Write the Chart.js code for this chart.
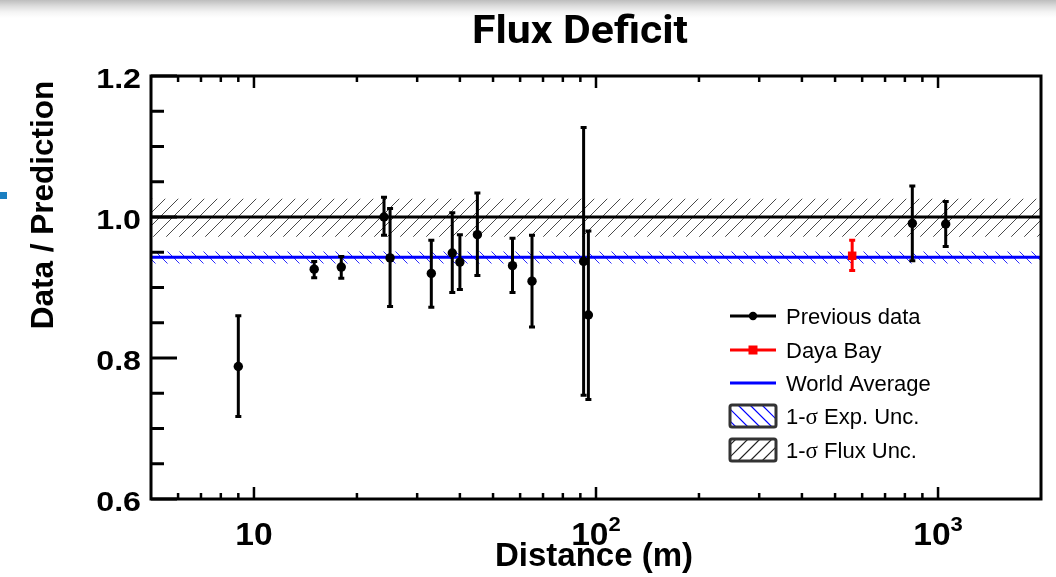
<!DOCTYPE html>
<html>
<head>
<meta charset="utf-8">
<script src="https://cdn.jsdelivr.net/npm/chart.js@4.4.1/dist/chart.umd.min.js"></script>
<style>
html,body{margin:0;padding:0;width:1056px;height:577px;overflow:hidden;
 background:#fff linear-gradient(to bottom,#bdbdbd 0px,#dcdcdc 6px,#f4f4f4 12px,#ffffff 18px) no-repeat;background-size:100% 20px;}
#wrap{position:relative;width:1056px;height:577px;}
#mark{position:absolute;left:0;top:192px;width:7px;height:7px;background:#1a7fc1;}
canvas{position:absolute;left:0;top:0;}
</style>
</head>
<body>
<div id="wrap"><canvas id="c" width="1056" height="577"></canvas><div id="mark"></div></div>
<script>
// ---------- data ----------
const chartTitle = 'Flux Deficit';
const xAxisTitle = 'Distance (m)';
const yAxisTitle = 'Data / Prediction';
const xAxisRange = [5, 2000];
const yAxisRange = [0.6, 1.2];
const xMajorTicks = [10, 100, 1000];
const xMajorBase = ['10', '10', '10'];
const xMajorExp = ['', '2', '3'];
const xMinorTicks = [6, 7, 8, 9, 20, 30, 40, 50, 60, 70, 80, 90, 200, 300, 400, 500, 600, 700, 800, 900];
const yTickStep = 0.05;
const yLabelStep = 0.2;

const prevDistance = [9, 15, 18, 24, 25, 33, 38, 40, 45, 57, 65, 92, 95, 841, 1053];
const prevRatio    = [0.788, 0.926, 0.929, 1.000, 0.942, 0.920, 0.949, 0.936, 0.975, 0.931, 0.909, 0.937, 0.861, 0.991, 0.990];
const prevErrHigh  = [0.860, 0.937, 0.944, 1.028, 1.012, 0.967, 1.006, 0.975, 1.034, 0.970, 0.974, 1.127, 0.980, 1.044, 1.022];
const prevErrLow   = [0.717, 0.914, 0.913, 0.974, 0.873, 0.872, 0.893, 0.897, 0.917, 0.893, 0.844, 0.747, 0.741, 0.938, 0.958];

const dybDistance = [561];
const dybRatio    = [0.945];
const dybErrHigh  = [0.967];
const dybErrLow   = [0.924];

const worldAverage = 0.943;
const expUncBand  = [0.934, 0.951];
const fluxUncBand = [0.972, 1.026];
const unityLevel  = 1.0;

const legendLabels = ['Previous data', 'Daya Bay', 'World Average', '1-σ Exp. Unc.', '1-σ Flux Unc.'];

// ---------- helpers ----------
const SANS = "'Liberation Sans', Arial, Helvetica, sans-serif";
const SERIF = "'Liberation Serif', 'Times New Roman', serif";

function hatch(color, s, dir, lw) {
  const c = document.createElement('canvas');
  c.width = s; c.height = s;
  const g = c.getContext('2d');
  g.strokeStyle = color; g.lineWidth = lw;
  g.beginPath();
  if (dir === '/') {
    g.moveTo(-2, s + 2); g.lineTo(s + 2, -2);
    g.moveTo(-2, 2); g.lineTo(2, -2);
    g.moveTo(s - 2, s + 2); g.lineTo(s + 2, s - 2);
  } else {
    g.moveTo(-2, -2); g.lineTo(s + 2, s + 2);
    g.moveTo(s - 2, -2); g.lineTo(s + 2, 2);
    g.moveTo(-2, s - 2); g.lineTo(2, s + 2);
  }
  g.stroke();
  return g.createPattern(c, 'repeat');
}

function drawText(ctx, s, x, y, font, align, sx) {
  ctx.save();
  ctx.font = font;
  ctx.textAlign = 'left';
  ctx.textBaseline = 'alphabetic';
  const w = ctx.measureText(s).width * (sx || 1);
  const x0 = align === 'center' ? x - w / 2 : align === 'right' ? x - w : x;
  ctx.translate(x0, y);
  ctx.scale(sx || 1, 1);
  ctx.fillText(s, 0, 0);
  ctx.restore();
  return w;
}

const ctx0 = document.getElementById('c').getContext('2d');
const grayHatch = hatch('#4a4a4a', 13, '/', 1);
const blueHatch = hatch('#2a2aff', 12, '\\', 1);

const lineAt = v => xAxisRange.map(x => ({ x: x, y: v }));

// ---------- plugins ----------
const errorBars = {
  id: 'errorBars',
  beforeDatasetDraw(chart, args) {
    const ds = chart.data.datasets[args.index];
    if (!ds.errLow) return;
    const xs = chart.scales.x, ys = chart.scales.y, ctx = chart.ctx;
    ctx.save();
    ctx.strokeStyle = ds.borderColor;
    ctx.lineWidth = 3;
    ctx.lineCap = 'butt';
    ds.data.forEach((p, i) => {
      const px = xs.getPixelForValue(p.x);
      const yl = ys.getPixelForValue(ds.errLow[i]);
      const yh = ys.getPixelForValue(ds.errHigh[i]);
      ctx.beginPath();
      ctx.moveTo(px, yl); ctx.lineTo(px, yh);
      ctx.moveTo(px - 3, yl); ctx.lineTo(px + 3, yl);
      ctx.moveTo(px - 3, yh); ctx.lineTo(px + 3, yh);
      ctx.stroke();
    });
    ctx.restore();
  }
};

const axesDecor = {
  id: 'axesDecor',
  afterDraw(chart) {
    const ctx = chart.ctx, a = chart.chartArea;
    const xs = chart.scales.x, ys = chart.scales.y;
    ctx.save();
    ctx.strokeStyle = '#000';
    ctx.fillStyle = '#000';
    // x ticks (bottom and top, inward)
    ctx.lineWidth = 2.5;
    xs.ticks.forEach(t => {
      const px = xs.getPixelForValue(t.value);
      const len = xMajorTicks.includes(t.value) ? 12 : 6;
      ctx.beginPath();
      ctx.moveTo(px, a.bottom); ctx.lineTo(px, a.bottom - len);
      ctx.moveTo(px, a.top); ctx.lineTo(px, a.top + len);
      ctx.stroke();
    });
    // y ticks (left, inward)
    ctx.lineWidth = 3;
    ys.ticks.forEach(t => {
      const py = ys.getPixelForValue(t.value);
      const major = Math.abs(t.value / yLabelStep - Math.round(t.value / yLabelStep)) < 1e-6;
      ctx.beginPath();
      ctx.moveTo(a.left, py); ctx.lineTo(a.left + (major ? 26 : 13), py);
      ctx.stroke();
    });
    // frame
    ctx.lineWidth = 3;
    ctx.strokeRect(a.left, a.top, a.right - a.left, a.bottom - a.top);

    // y tick labels
    ys.ticks.forEach(t => {
      const major = Math.abs(t.value / yLabelStep - Math.round(t.value / yLabelStep)) < 1e-6;
      if (!major) return;
      const py = ys.getPixelForValue(t.value);
      drawText(ctx, t.value.toFixed(1), a.left - 10, py + 12, 'bold 28px ' + SANS, 'right', 1.15);
    });
    // x tick labels
    xMajorTicks.forEach((v, i) => {
      const px = xs.getPixelForValue(v);
      ctx.font = 'bold 32px ' + SANS;
      const wb = ctx.measureText(xMajorBase[i]).width * 1.05;
      let we = 0;
      if (xMajorExp[i]) { ctx.font = 'bold 21px ' + SANS; we = ctx.measureText(xMajorExp[i]).width * 1.05; }
      const x0 = px - (wb + we) / 2;
      drawText(ctx, xMajorBase[i], x0, 545, 'bold 32px ' + SANS, 'left', 1.05);
      if (xMajorExp[i]) drawText(ctx, xMajorExp[i], x0 + wb, 531, 'bold 21px ' + SANS, 'left', 1.05);
    });

    // axis titles
    drawText(ctx, xAxisTitle, 594, 566, 'bold 33px ' + SANS, 'center', 1);
    ctx.save();
    ctx.translate(53, 205);
    ctx.rotate(-Math.PI / 2);
    drawText(ctx, yAxisTitle, 0, 0, 'bold 31.5px ' + SANS, 'center', 1);
    ctx.restore();

    // title
    ctx.save();
    ctx.font = 'bold 38px Roboto, ' + SANS;
    const tw = ctx.measureText(chartTitle).width;
    ctx.restore();
    drawText(ctx, chartTitle, 580, 43, 'bold 38px Roboto, ' + SANS, 'center', 216 / tw);

    // legend
    const lx0 = 730, lx1 = 776, tx = 786;
    const rows = [316, 350, 383, 416, 450];
    ctx.lineWidth = 3;
    ctx.strokeStyle = '#000';
    ctx.beginPath(); ctx.moveTo(lx0, rows[0]); ctx.lineTo(lx1, rows[0]); ctx.stroke();
    ctx.beginPath(); ctx.arc((lx0 + lx1) / 2, rows[0], 4.2, 0, Math.PI * 2); ctx.fill();
    ctx.strokeStyle = '#ff0000'; ctx.fillStyle = '#ff0000';
    ctx.beginPath(); ctx.moveTo(lx0, rows[1]); ctx.lineTo(lx1, rows[1]); ctx.stroke();
    ctx.fillRect((lx0 + lx1) / 2 - 4.5, rows[1] - 4.5, 9, 9);
    ctx.strokeStyle = '#0000ff';
    ctx.beginPath(); ctx.moveTo(lx0, rows[2]); ctx.lineTo(lx1, rows[2]); ctx.stroke();
    [[rows[3], '#0000ff', '\\'], [rows[4], '#222', '/']].forEach(([cy, col, dir]) => {
      const bx = 730, by = cy - 11, bw = 46, bh = 22;
      ctx.save();
      ctx.beginPath(); ctx.rect(bx, by, bw, bh); ctx.clip();
      ctx.strokeStyle = col; ctx.lineWidth = 1.2;
      ctx.beginPath();
      for (let k = -40; k < 80; k += 12) {
        if (dir === '/') { ctx.moveTo(bx + k, by + bh); ctx.lineTo(bx + k + bh, by); }
        else { ctx.moveTo(bx + k, by); ctx.lineTo(bx + k + bh, by + bh); }
      }
      ctx.stroke();
      ctx.restore();
      ctx.strokeStyle = '#333'; ctx.lineWidth = 3;
      ctx.beginPath(); ctx.roundRect(bx, by, bw, bh, 2); ctx.stroke();
    });
    ctx.fillStyle = '#000';
    legendLabels.forEach((lab, i) => {
      const base = rows[i] + 8;
      const parts = lab.split('σ');
      if (parts.length === 1) { drawText(ctx, lab, tx, base, '22px ' + SANS, 'left', 1); return; }
      let x = tx;
      x += drawText(ctx, parts[0], x, base, '22px ' + SANS, 'left', 1);
      x += drawText(ctx, 'σ', x, base, '23px ' + SERIF, 'left', 1);
      drawText(ctx, parts[1], x, base, '22px ' + SANS, 'left', 1);
    });
    ctx.restore();
  }
};

// ---------- chart ----------
const pts = (xs, ys) => xs.map((x, i) => ({ x: x, y: ys[i] }));

new Chart(ctx0, {
  type: 'line',
  data: {
    datasets: [
      { label: legendLabels[0], data: pts(prevDistance, prevRatio), errLow: prevErrLow, errHigh: prevErrHigh,
        showLine: false, pointRadius: 4.7, pointBackgroundColor: '#000', pointBorderWidth: 0,
        borderColor: '#000', backgroundColor: '#000', order: 0 },
      { label: legendLabels[1], data: pts(dybDistance, dybRatio), errLow: dybErrLow, errHigh: dybErrHigh,
        showLine: false, pointStyle: 'rect', pointRadius: 6, pointBackgroundColor: '#ff0000', pointBorderWidth: 0,
        borderColor: '#ff0000', backgroundColor: '#ff0000', order: 1 },
      { label: legendLabels[2], data: lineAt(worldAverage), borderColor: '#0000ff', borderWidth: 3,
        pointRadius: 0, fill: false, order: 2 },
      { label: 'Unity', data: lineAt(unityLevel), borderColor: '#000', borderWidth: 3,
        pointRadius: 0, fill: false, order: 3 },
      { label: legendLabels[3], data: lineAt(expUncBand[1]), borderColor: 'rgba(0,0,0,0)', borderWidth: 1,
        pointRadius: 0, fill: '+1', backgroundColor: blueHatch, order: 4 },
      { label: 'exp-low', data: lineAt(expUncBand[0]), borderColor: 'rgba(0,0,0,0)', borderWidth: 1,
        pointRadius: 0, fill: false, order: 5 },
      { label: legendLabels[4], data: lineAt(fluxUncBand[1]), borderColor: 'rgba(0,0,0,0)', borderWidth: 1,
        pointRadius: 0, fill: '+1', backgroundColor: grayHatch, order: 6 },
      { label: 'flux-low', data: lineAt(fluxUncBand[0]), borderColor: 'rgba(0,0,0,0)', borderWidth: 1,
        pointRadius: 0, fill: false, order: 7 }
    ]
  },
  options: {
    responsive: false,
    animation: false,
    devicePixelRatio: 1,
    layout: { padding: { top: 76, right: 15, left: 0, bottom: 0 } },
    plugins: { legend: { display: false }, title: { display: false }, tooltip: { enabled: false } },
    scales: {
      x: {
        type: 'logarithmic', min: xAxisRange[0], max: xAxisRange[1],
        grid: { display: false }, border: { display: false },
        ticks: { display: false, autoSkip: false },
        afterBuildTicks: s => { s.ticks = xMinorTicks.concat(xMajorTicks).sort((a, b) => a - b).map(v => ({ value: v })); },
        afterFit: s => { s.height = 78; }
      },
      y: {
        type: 'linear', min: yAxisRange[0], max: yAxisRange[1],
        grid: { display: false }, border: { display: false },
        ticks: { display: false, stepSize: yTickStep },
        afterFit: s => { s.width = 151; }
      }
    }
  },
  plugins: [errorBars, axesDecor]
});
</script>
</body>
</html>
